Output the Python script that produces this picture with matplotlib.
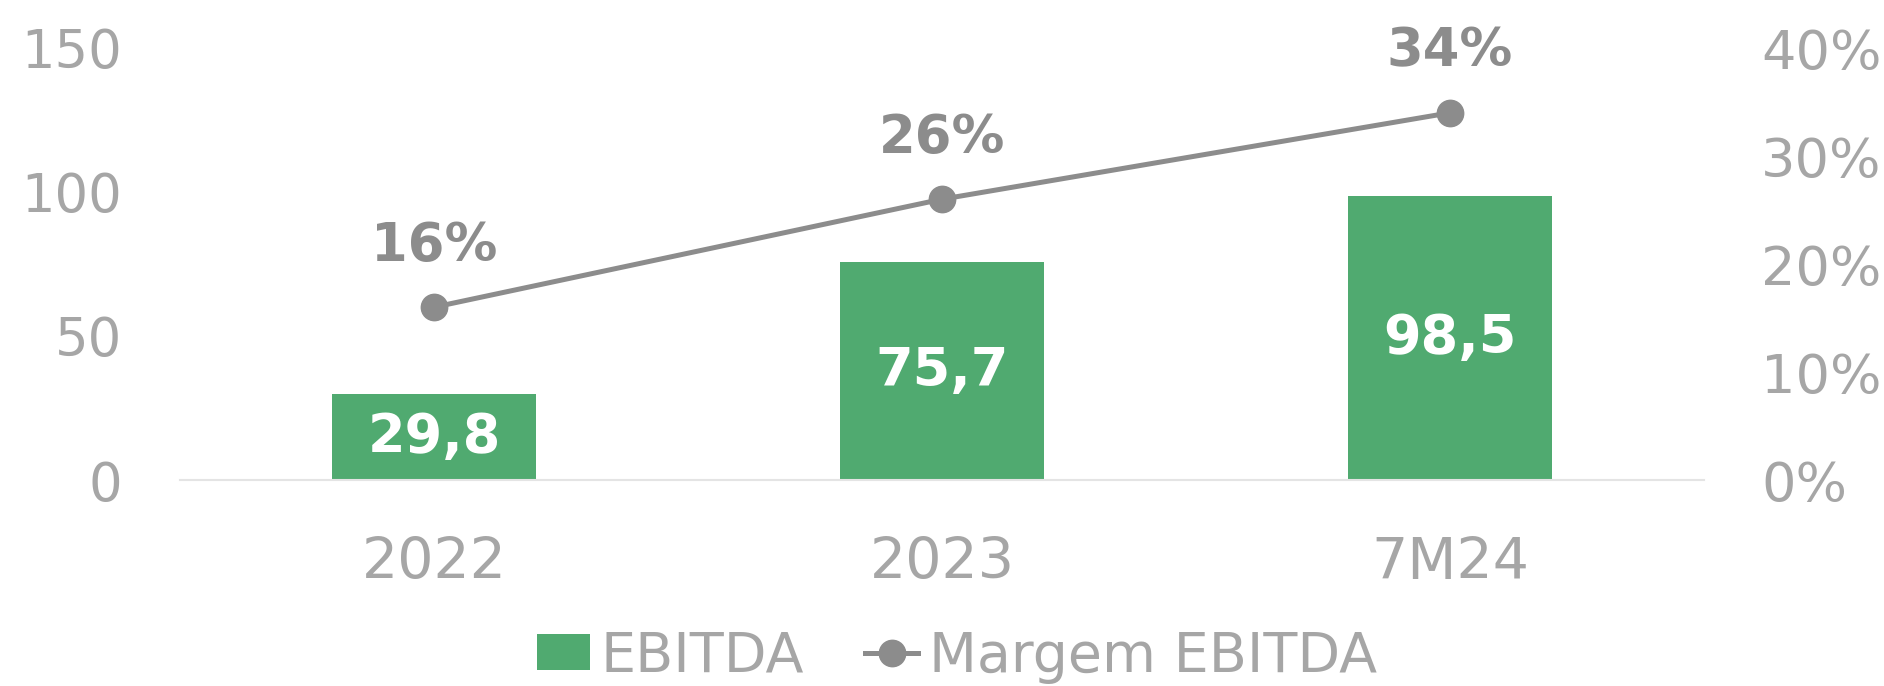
import matplotlib
matplotlib.use('Agg')
import matplotlib.pyplot as plt
import numpy as np

# data
categories = ['2022', '2023', '7M24']
ebitda = [29.8, 75.7, 98.5]
ebitda_labels = ['29,8', '75,7', '98,5']
margem = [0.16, 0.26, 0.34]
margem_labels = ['16%', '26%', '34%']
left_ticks = [0, 50, 100, 150]
right_ticks = [0.0, 0.1, 0.2, 0.3, 0.4]

GREEN = '#50AA70'
LINE = '#8C8C8C'
TICK = '#A6A6A6'

plt.rcParams['font.family'] = ['DejaVu Sans']

fig = plt.figure(figsize=(18.84, 6.86), dpi=100)
ax = fig.add_axes([180 / 1884, 1 - 480 / 686, 1524 / 1884, 432 / 686])
ax2 = ax.twinx()

x = np.arange(len(categories))
bars = ax.bar(x, ebitda, width=0.4, color=GREEN, zorder=2, label='EBITDA')
for b, lab in zip(bars, ebitda_labels):
    ax.text(b.get_x() + b.get_width() / 2, b.get_height() / 2, lab,
            ha='center', va='center', color='white', fontsize=39,
            fontweight='bold')

ln, = ax2.plot(x, margem, color=LINE, lw=3.6, marker='o', markersize=19,
               label='Margem EBITDA', zorder=3)
for xi, yi, lab in zip(x, margem, margem_labels):
    ax2.annotate(lab, (xi, yi), xytext=(0, 44), textcoords='offset points',
                 ha='center', va='center', color=LINE, fontsize=38,
                 fontweight='bold')

ax.set_xlim(-0.5, 2.5)
ax.set_ylim(0, 150)
ax2.set_ylim(0, 0.4)
ax.set_yticks(left_ticks)
ax.set_yticklabels([str(t) for t in left_ticks])
ax2.set_yticks(right_ticks)
ax2.set_yticklabels([f'{int(round(t * 100))}%' for t in right_ticks])
ax.set_xticks(x)
ax.set_xticklabels(categories)

for a in (ax, ax2):
    for s in a.spines.values():
        s.set_visible(False)
ax.spines['bottom'].set_visible(True)
ax.spines['bottom'].set_color('#E4E4E4')
ax.spines['bottom'].set_linewidth(1.5)

ax.tick_params(axis='y', length=0, pad=42, labelsize=38, labelcolor=TICK)
ax.tick_params(axis='x', length=0, pad=40, labelsize=41, labelcolor=TICK)
ax2.tick_params(axis='y', length=0, pad=41, labelsize=39, labelcolor=TICK)

leg = fig.legend([bars, ln], ['EBITDA', 'Margem EBITDA'], loc='center',
                 bbox_to_anchor=(957 / 1884, 1 - 657 / 686), ncol=2,
                 frameon=False, fontsize=40, handlelength=0.95,
                 handleheight=0.62, handletextpad=0.2, columnspacing=1.1,
                 borderaxespad=0, borderpad=0)
for t in leg.get_texts():
    t.set_color(TICK)

fig.savefig('out.png', dpi=100)
